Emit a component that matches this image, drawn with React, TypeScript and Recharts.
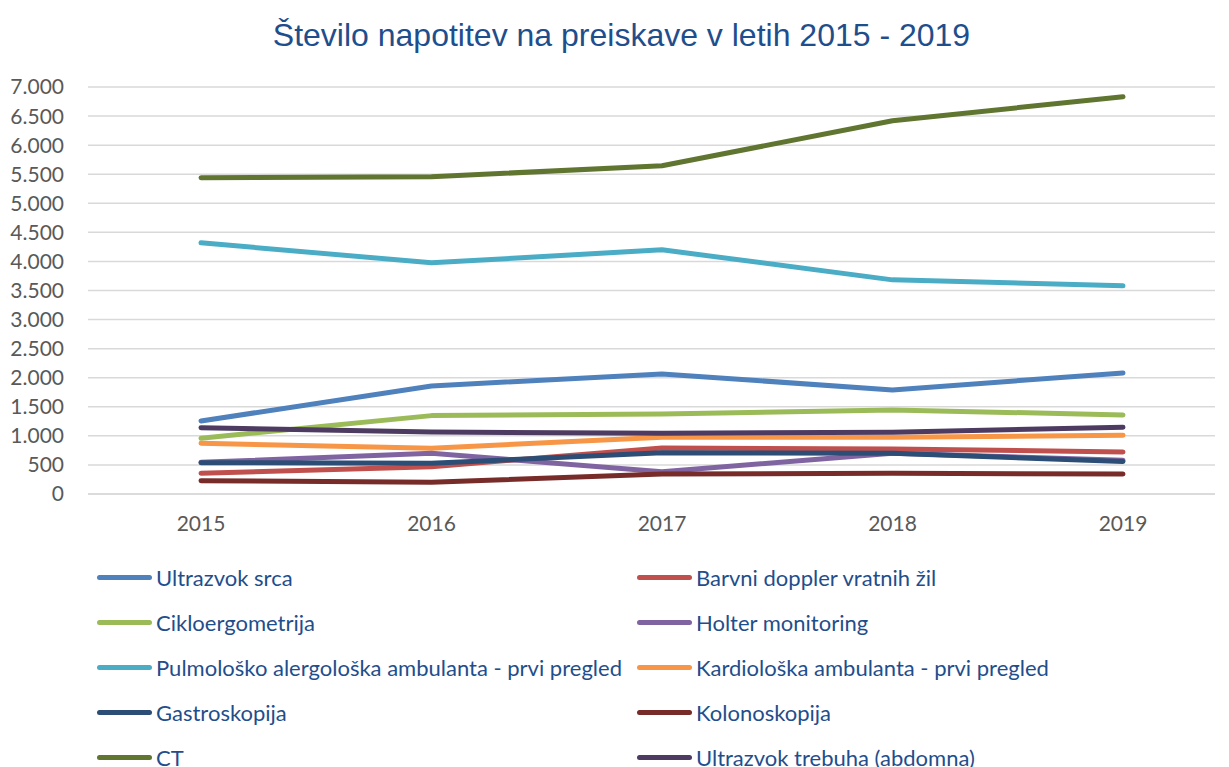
import { LineChart, Line, XAxis, YAxis, CartesianGrid } from 'recharts';

const years = ['2015', '2016', '2017', '2018', '2019'];

const ultrazvokSrca = [1256, 1859, 2065, 1790, 2083];
const barvniDoppler = [356, 470, 790, 775, 723];
const cikloergometrija = [959, 1348, 1377, 1446, 1360];
const holter = [545, 700, 384, 700, 580];
const pulmoloska = [4320, 3976, 4200, 3683, 3580];
const kardioloska = [873, 787, 976, 976, 1010];
const gastroskopija = [539, 528, 711, 700, 560];
const kolonoskopija = [229, 201, 344, 356, 344];
const ct = [5439, 5456, 5645, 6420, 6833];
const ultrazvokTrebuha = [1141, 1067, 1045, 1062, 1148];

const yTicks = [0, 500, 1000, 1500, 2000, 2500, 3000, 3500, 4000, 4500, 5000, 5500, 6000, 6500, 7000];

const series = [
  { key: 'us', name: 'Ultrazvok srca', color: '#4f81bd', values: ultrazvokSrca },
  { key: 'bd', name: 'Barvni doppler vratnih žil', color: '#c0504d', values: barvniDoppler },
  { key: 'ci', name: 'Cikloergometrija', color: '#9bbb59', values: cikloergometrija },
  { key: 'ho', name: 'Holter monitoring', color: '#8064a2', values: holter },
  { key: 'pu', name: 'Pulmološko alergološka ambulanta - prvi pregled', color: '#4bacc6', values: pulmoloska },
  { key: 'ka', name: 'Kardiološka ambulanta - prvi pregled', color: '#f79646', values: kardioloska },
  { key: 'ga', name: 'Gastroskopija', color: '#2c4d75', values: gastroskopija },
  { key: 'ko', name: 'Kolonoskopija', color: '#772c2a', values: kolonoskopija },
  { key: 'ct', name: 'CT', color: '#5f7530', values: ct },
  { key: 'ut', name: 'Ultrazvok trebuha (abdomna)', color: '#4d3b62', values: ultrazvokTrebuha },
];

// draw order: CT and pulmo behind, trebuha on top of the small ones
const drawOrder = ['ct', 'pu', 'us', 'ci', 'ka', 'bd', 'ho', 'ga', 'ko', 'ut'];

const data = years.map((year, i) => {
  const row: Record<string, any> = { year };
  series.forEach((s) => {
    row[s.key] = s.values[i];
  });
  return row;
});

const fmt = (v: number) => v.toLocaleString('de-DE');

const tickFont = { fill: '#595959', fontSize: 21, fontFamily: 'Lato, "Open Sans", sans-serif' };

export default function App() {
  return (
    <div style={{ position: 'relative', width: 1229, height: 767, background: '#fff', overflow: 'hidden' }}>
      <style>{`body{margin:0}`}</style>
      <div
        style={{
          position: 'absolute',
          top: 16,
          left: 7,
          width: 1229,
          textAlign: 'center',
          fontFamily: '"Liberation Sans", Arial, sans-serif',
          fontSize: 32,
          lineHeight: '38px',
          color: '#1f4e8c',
        }}
      >
        Število napotitev na preiskave v letih 2015 - 2019
      </div>
      <LineChart
        width={1229}
        height={767}
        data={data}
        margin={{ top: 87, right: 14, left: 0, bottom: 243 }}
      >
        <CartesianGrid vertical={false} stroke="#d9d9d9" strokeWidth={1.5} />
        <XAxis
          dataKey="year"
          height={30}
          padding={{ left: 113, right: 92 }}
          tick={tickFont}
          tickLine={false}
          tickSize={0}
          tickMargin={22}
          axisLine={{ stroke: '#d9d9d9', strokeWidth: 1.5 }}
        />
        <YAxis
          width={88}
          domain={[0, 7000]}
          ticks={yTicks}
          interval={0}
          tick={tickFont}
          tickFormatter={fmt}
          tickLine={false}
          tickSize={0}
          tickMargin={24}
          axisLine={false}
        />
        {drawOrder.map((k) => {
          const s = series.find((x) => x.key === k)!;
          return (
            <Line
              key={s.key}
              type="linear"
              dataKey={s.key}
              name={s.name}
              stroke={s.color}
              strokeWidth={5}
              strokeLinecap="round"
              strokeLinejoin="round"
              dot={false}
              activeDot={false}
              isAnimationActive={false}
            />
          );
        })}
      </LineChart>
      {series.map((s, i) => {
        const col = i % 2;
        const row = Math.floor(i / 2);
        return (
          <div
            key={s.key}
            style={{
              position: 'absolute',
              left: col === 0 ? 97 : 637,
              top: 577 + row * 45 - 15,
              height: 30,
              display: 'flex',
              alignItems: 'center',
              whiteSpace: 'nowrap',
              fontFamily: 'Lato, "Open Sans", sans-serif',
              fontSize: 22,
              color: '#1f4e8c',
            }}
          >
            <span
              style={{
                display: 'inline-block',
                width: 55,
                height: 5,
                borderRadius: 3,
                background: s.color,
                marginRight: 4,
              }}
            />
            {s.name}
          </div>
        );
      })}
    </div>
  );
}
